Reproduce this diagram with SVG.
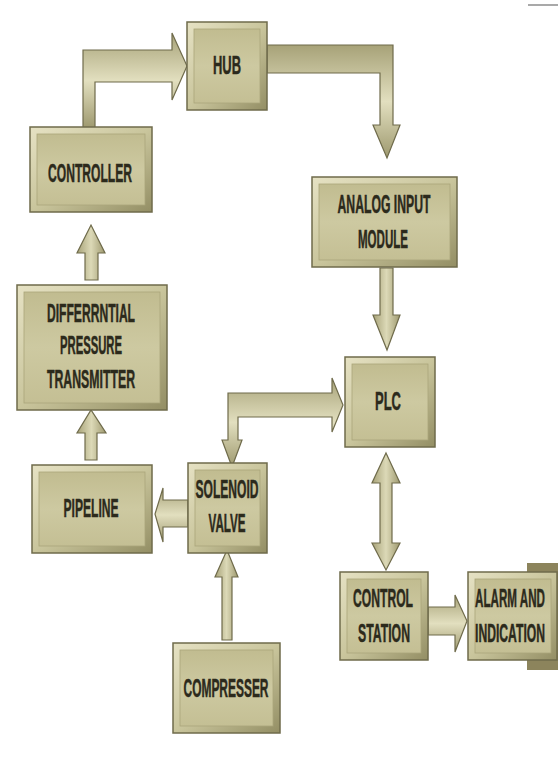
<svg xmlns="http://www.w3.org/2000/svg" width="558" height="764" viewBox="0 0 558 764">
<defs>
<linearGradient id="bev" x1="0" y1="0" x2="1" y2="1">
<stop offset="0" stop-color="#e6e2c4"/>
<stop offset="0.5" stop-color="#c9c59c"/>
<stop offset="1" stop-color="#938e64"/>
</linearGradient>
<linearGradient id="face" x1="0" y1="0" x2="0" y2="1">
<stop offset="0" stop-color="#c1bc90"/>
<stop offset="0.5" stop-color="#cdc9a1"/>
<stop offset="1" stop-color="#c4bf94"/>
</linearGradient>
<linearGradient id="arrH" x1="0" y1="0" x2="0" y2="1">
<stop offset="0" stop-color="#a7a278"/>
<stop offset="0.5" stop-color="#e2dfbf"/>
<stop offset="1" stop-color="#9e996f"/>
</linearGradient>
<linearGradient id="arrV" x1="0" y1="0" x2="1" y2="0">
<stop offset="0" stop-color="#a7a278"/>
<stop offset="0.5" stop-color="#dcd9b7"/>
<stop offset="1" stop-color="#9e996f"/>
</linearGradient>
</defs>
<style>
.outer{fill:url(#bev);stroke:#6f6b4b;stroke-width:1.5}
.inner{fill:url(#face);stroke:#aaa57b;stroke-width:0.8}
.lbl{font-family:"Liberation Sans","DejaVu Sans",Arial,sans-serif;font-weight:bold;font-size:25px;fill:#2c2a1c;stroke:#2c2a1c;stroke-width:0.5;text-anchor:middle}
.ah{fill:url(#arrH);stroke:#6f6b4b;stroke-width:1.2;stroke-linejoin:miter}
.av{fill:url(#arrV);stroke:#6f6b4b;stroke-width:1.2;stroke-linejoin:miter}
</style>
<rect width="558" height="764" fill="#ffffff"/>
<line x1="528" y1="5" x2="558" y2="5" stroke="#a9a9a9" stroke-width="2"/>
<rect x="527" y="563" width="31" height="107" fill="#8c845c"/>

<g id="connectors">
<path class="ah" d="M83,128 L83,50 L172,50 L172,33 L187,66 L172,100 L172,82 L95,82 L95,128 Z"/>
<path class="ah" d="M267,45 L393,45 L393,125 L400,125 L387,158 L373,125 L380,125 L380,73 L267,73 Z"/>
<path class="av" d="M380,268 L393,268 L393,315 L400,315 L387,350 L373,315 L380,315 Z"/>
<path class="ah" d="M228,393 L332,393 L332,378 L343,405 L332,432 L332,417 L238,417 L238,440 L242,440 L232,467 L222,440 L228,440 Z"/>
<path class="av" d="M386,453 L400,483 L392,483 L392,543 L400,543 L386,570 L372,543 L380,543 L380,483 L372,483 Z"/>
<path class="ah" d="M428,607 L455,607 L455,595 L467,621 L455,652 L455,635 L428,635 Z"/>
<path class="av" d="M222,640 L222,577 L215,577 L227,550 L238,577 L232,577 L232,640 Z"/>
<path class="ah" d="M188,500 L163,500 L163,488 L155,514 L163,542 L163,527 L188,527 Z"/>
<path class="av" d="M85,460 L85,433 L77,433 L91,410 L106,433 L97,433 L97,460 Z"/>
<path class="av" d="M85,280 L85,253 L77,253 L91,225 L105,253 L98,253 L98,280 Z"/>
</g>

<g id="hub">
<rect class="outer" x="187" y="22" width="80" height="88"/>
<rect class="inner" x="194" y="29" width="66" height="74"/>
<text class="lbl" x="227" y="74" textLength="28" lengthAdjust="spacingAndGlyphs">HUB</text>
</g>
<g id="controller">
<rect class="outer" x="30" y="127" width="122" height="85"/>
<rect class="inner" x="37" y="134" width="108" height="71"/>
<text class="lbl" x="90" y="182" textLength="84" lengthAdjust="spacingAndGlyphs">CONTROLLER</text>
</g>
<g id="analog">
<rect class="outer" x="312" y="177" width="145" height="90"/>
<rect class="inner" x="319" y="184" width="131" height="76"/>
<text class="lbl" x="384" y="213" textLength="93" lengthAdjust="spacingAndGlyphs">ANALOG INPUT</text>
<text class="lbl" x="383" y="248" textLength="50" lengthAdjust="spacingAndGlyphs">MODULE</text>
</g>
<g id="diff">
<rect class="outer" x="17" y="285" width="150" height="125"/>
<rect class="inner" x="24" y="292" width="136" height="111"/>
<text class="lbl" x="91" y="322" textLength="88" lengthAdjust="spacingAndGlyphs">DIFFERRNTIAL</text>
<text class="lbl" x="91" y="354" textLength="62" lengthAdjust="spacingAndGlyphs">PRESSURE</text>
<text class="lbl" x="91" y="388" textLength="88" lengthAdjust="spacingAndGlyphs">TRANSMITTER</text>
</g>
<g id="plc">
<rect class="outer" x="345" y="357" width="90" height="90"/>
<rect class="inner" x="352" y="364" width="76" height="76"/>
<text class="lbl" x="388" y="410" textLength="26" lengthAdjust="spacingAndGlyphs">PLC</text>
</g>
<g id="pipeline">
<rect class="outer" x="32" y="465" width="120" height="88"/>
<rect class="inner" x="39" y="472" width="106" height="74"/>
<text class="lbl" x="91" y="517" textLength="55" lengthAdjust="spacingAndGlyphs">PIPELINE</text>
</g>
<g id="solenoid">
<rect class="outer" x="188" y="463" width="79" height="90"/>
<rect class="inner" x="195" y="470" width="65" height="76"/>
<text class="lbl" x="227" y="498" textLength="63" lengthAdjust="spacingAndGlyphs">SOLENOID</text>
<text class="lbl" x="227" y="532" textLength="37" lengthAdjust="spacingAndGlyphs">VALVE</text>
</g>
<g id="control-station">
<rect class="outer" x="340" y="572" width="88" height="88"/>
<rect class="inner" x="347" y="579" width="74" height="74"/>
<text class="lbl" x="383" y="607" textLength="60" lengthAdjust="spacingAndGlyphs">CONTROL</text>
<text class="lbl" x="384" y="642" textLength="52" lengthAdjust="spacingAndGlyphs">STATION</text>
</g>
<g id="alarm">
<rect class="outer" x="468" y="572" width="89" height="88"/>
<rect class="inner" x="475" y="579" width="76" height="74"/>
<text class="lbl" x="510" y="607" textLength="70" lengthAdjust="spacingAndGlyphs">ALARM AND</text>
<text class="lbl" x="510" y="642" textLength="70" lengthAdjust="spacingAndGlyphs">INDICATION</text>
</g>
<g id="compresser">
<rect class="outer" x="173" y="643" width="107" height="90"/>
<rect class="inner" x="180" y="650" width="93" height="76"/>
<text class="lbl" x="226" y="697" textLength="85" lengthAdjust="spacingAndGlyphs">COMPRESSER</text>
</g>
</svg>
